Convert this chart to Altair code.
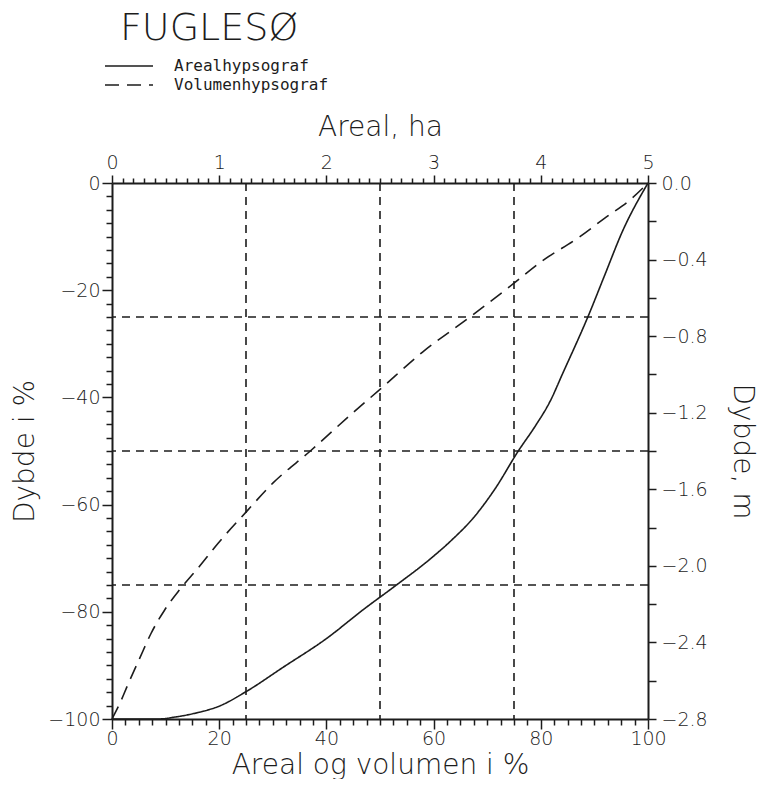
import altair as alt
import pandas as pd

# ---- data ----
area_pct = [0, 8.6, 12, 16, 20, 25, 32, 40, 47, 52.8, 59.3, 63.5, 67.4, 71.5, 75.8, 79, 81.7, 84.1, 88.9, 92, 95.2, 100]
area_depth = [-100, -100, -99.6, -98.8, -97.6, -94.9, -90.3, -85, -79.5, -75.2, -70.2, -66.5, -62.5, -57, -50, -45.3, -40.8, -35.5, -24.7, -17, -9.1, 0]

vol_pct = [0, 1.5, 3, 5.2, 7.3, 9.8, 12.6, 16, 19.8, 25, 30, 37, 44.8, 50, 58, 66.8, 75, 79.9, 87.3, 92, 96.6, 100]
vol_depth = [-100, -97, -93.5, -88.6, -84, -79.7, -75.9, -71.9, -67.2, -61.4, -56, -50, -43, -38.5, -31.5, -25, -18.7, -14.8, -10, -6.5, -3.2, 0]

series_names = ["Arealhypsograf", "Volumenhypsograf"]
grid_x = [25, 50, 75]
grid_y = [-25, -50, -75]

pct_ticks = [i * 2.5 for i in range(41)]
depth_pct_ticks = [-i * 2.5 for i in range(41)]
ha_ticks = [round(i * 0.1, 1) for i in range(51)]
m_ticks = [0.0, -0.2, -0.4, -0.6, -0.8, -1.0, -1.2, -1.4, -1.6, -1.8, -2.0, -2.2, -2.4, -2.6, -2.8]
ha_extent = [0, 5]
m_extent = [0, -2.8]

rows = []
for i, (x, y) in enumerate(zip(area_pct, area_depth)):
    rows.append({"pct": x, "depth": y, "serie": series_names[0], "i": i})
for i, (x, y) in enumerate(zip(vol_pct, vol_depth)):
    rows.append({"pct": x, "depth": y, "serie": series_names[1], "i": i})
df = pd.DataFrame(rows)

INK = "#1c1c1c"
FONT = "DejaVu Sans"
W = 200

common_axis = dict(
    domainColor=INK, domainWidth=2, tickColor=INK, tickWidth=1.5, tickCount=300,
    labelColor=INK, labelFont=FONT, labelFontSize=19, labelFontWeight=W, labelFlush=False,
    labelOverlap=False, titleColor=INK, titleFont=FONT, titleFontSize=28,
    titleFontWeight=W, grid=False,
)

x_bottom = alt.Axis(
    orient="bottom", values=pct_ticks, title="Areal og volumen i %",
    labelExpr="datum.value % 20 === 0 ? format(datum.value, 'd') : ''",
    tickSize={"condition": {"test": "datum.value % 20 === 0", "value": 10}, "value": 6},
    labelPadding=0, titleBaseline="alphabetic", titleY=54, **common_axis,
)
y_left = alt.Axis(
    orient="left", values=depth_pct_ticks, title="Dybde i %",
    labelExpr="datum.value % 20 === 0 ? format(datum.value, 'd') : ''",
    tickSize={"condition": {"test": "datum.value % 20 === 0", "value": 10}, "value": 6},
    labelPadding=2, titlePadding=8, **common_axis,
)

x_scale = alt.Scale(domain=[0, 100], nice=False, zero=False)
y_scale = alt.Scale(domain=[-100, 0], nice=False, zero=False)

curves = alt.Chart(df).mark_line(color=INK, strokeWidth=1.6, interpolate="monotone").encode(
    x=alt.X("pct:Q", scale=x_scale, axis=x_bottom),
    y=alt.Y("depth:Q", scale=y_scale, axis=y_left),
    strokeDash=alt.StrokeDash(
        "serie:N",
        scale=alt.Scale(domain=series_names, range=[[1, 0], [14, 8]]),
        legend=alt.Legend(
            orient="none", legendX=8, legendY=-173, direction="vertical",
            title="FUGLESØ", titleFont=FONT, titleFontSize=38, titleFontWeight=W,
            titleColor=INK, titlePadding=9, titleAnchor="start", titleLimit=400,
            labelFont="DejaVu Sans Mono", labelFontSize=16, labelColor=INK, labelLimit=400,
            symbolType="M-3,0H3", symbolSize=256, symbolStrokeWidth=1.6,
            symbolStrokeColor=INK, labelOffset=36, rowPadding=2, padding=0,
        ),
    ),
    order="i:Q",
)

vrules = alt.Chart(pd.DataFrame({"gx": grid_x})).mark_rule(
    color=INK, strokeWidth=1.6, strokeDash=[8, 6]
).encode(x=alt.X("gx:Q", scale=x_scale, axis=x_bottom))

hrules = alt.Chart(pd.DataFrame({"gy": grid_y})).mark_rule(
    color=INK, strokeWidth=1.6, strokeDash=[8, 6]
).encode(y=alt.Y("gy:Q", scale=y_scale, axis=y_left))

main = alt.layer(curves, vrules, hrules)

is_int = "abs(datum.value - round(datum.value)) < 0.000001"
x_top = alt.Axis(
    orient="top", values=ha_ticks, title="Areal, ha",
    labelExpr=is_int + " ? format(datum.value, 'd') : ''",
    tickSize={"condition": {"test": is_int, "value": 8}, "value": 5},
    labelPadding=3, titlePadding=12, **common_axis,
)
y_right = alt.Axis(
    orient="right", values=m_ticks, title="Dybde, m",
    labelExpr="round(datum.value * 10) % 4 === 0 ? datum.label : ''",
    tickSize=8, format=".1f", labelPadding=5, titlePadding=20, **common_axis,
)

secondary = alt.Chart(pd.DataFrame({"ha": ha_extent, "m": m_extent})).mark_point(opacity=0).encode(
    x=alt.X("ha:Q", scale=alt.Scale(domain=[0, 5], nice=False, zero=False), axis=x_top),
    y=alt.Y("m:Q", scale=alt.Scale(domain=[-2.8, 0], nice=False, zero=False), axis=y_right),
)

chart = alt.layer(main, secondary).resolve_scale(
    x="independent", y="independent"
).properties(
    width=536, height=536,
    autosize=alt.AutoSizeParams(type="none"),
    padding={"left": 104, "top": 175, "right": 120, "bottom": 60},
    background="white",
).configure_view(stroke=None)

chart.save("out.html", embed_options={"renderer": "svg", "actions": False})
